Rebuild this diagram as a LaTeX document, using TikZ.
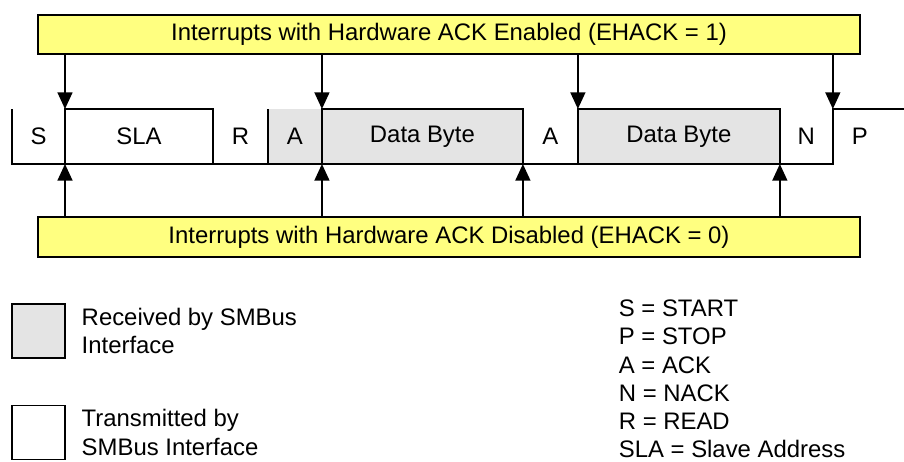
\documentclass[tikz,border=0pt]{standalone}
\usepackage{fontspec}
\setmainfont{Liberation Sans}
\usetikzlibrary{arrows.meta, positioning}

\definecolor{ackyellow}{RGB}{255,255,128}
\definecolor{rxgray}{RGB}{228,228,228}

\tikzset{
  field/.style={minimum height=1.1cm, inner sep=0pt, outer sep=0pt},
  rxfield/.style={field, fill=rxgray},
  ackbox/.style={draw, fill=ackyellow, minimum width=16.44cm, minimum height=0.79cm, inner sep=0pt},
  keybox/.style={draw, minimum width=1.06cm, minimum height=1.08cm, inner sep=0pt},
  keytext/.style={align=left, inner sep=0pt},
}

\begin{document}
\begin{tikzpicture}[x=0.02cm, y=-0.02cm, >={Triangle[width=8.5pt,length=9.5pt]},
    line width=1pt, font=\fontsize{13.6}{16.1}\selectfont]
  \useasboundingbox (0,0) rectangle (904,462);
  % interrupt bars
  \node[ackbox] (enabled) at (449,34.5) {Interrupts with Hardware ACK Enabled (EHACK = 1)};
  \node[ackbox] (disabled) at (449,237) {Interrupts with Hardware ACK Disabled (EHACK = 0)};
  % the frame, field by field
  \node[field, minimum width=1.06cm] (s) at (38.5,136.5) {S};
  \node[field, minimum width=2.96cm, right=0pt of s] (sla) {SLA};
  \node[field, minimum width=1.10cm, right=0pt of sla] (r) {R};
  \node[rxfield, minimum width=1.08cm, right=0pt of r] (a1) {A};
  \node[rxfield, minimum width=4.02cm, right=0pt of a1] (d1) {Data Byte};
  \node[field, minimum width=1.10cm, right=0pt of d1] (a2) {A};
  \node[rxfield, minimum width=4.04cm, right=0pt of a2] (d2) {Data Byte};
  \node[field, minimum width=1.06cm, right=0pt of d2] (n) {N};
  \node[field, minimum width=1.08cm, right=0pt of n] (p) {P};
  % field borders
  \draw (s.north west) |- (n.south east) -- (p.north west) -- (p.north east) -- ++(17,0);
  \draw (sla.north west) rectangle (sla.south east);
  \draw (d1.north west) rectangle (d1.south east);
  \draw (d2.north west) rectangle (d2.south east);
  \draw (a1.north west) -- (a1.south west);
  % interrupt points
  \foreach \f in {s, a1, a2, n}
    \draw[->] (enabled.south -| \f.north east) -- (\f.north east);
  \foreach \f in {s, a1, d1, d2}
    \draw[->] (disabled.north -| \f.south east) -- (\f.south east);
  % key
  \node[keybox, fill=rxgray] (rxkey) at (38.5,331) {};
  \node[keytext, right=0.3cm of rxkey] (rxtext) {Received by SMBus\\Interface};
  \node[keybox] (txkey) at (38.5,432.5) {};
  \node[keytext, right=0.3cm of txkey] (txtext) {Transmitted by\\SMBus Interface};
  \node[keytext, anchor=west] (abbrev) at (618,379)
    {S = START\\P = STOP\\A = ACK\\N = NACK\\R = READ\\SLA = Slave Address};
\end{tikzpicture}
\end{document}
